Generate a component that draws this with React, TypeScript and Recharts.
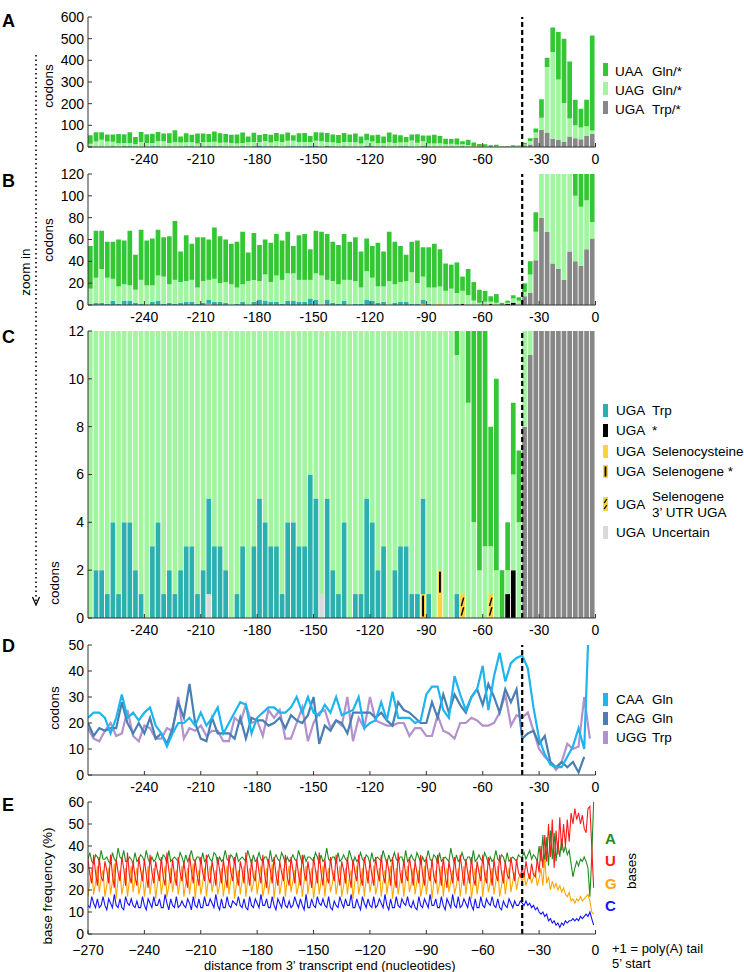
import React from 'react';
import { BarChart, Bar, LineChart, Line, XAxis, YAxis, ReferenceLine } from 'recharts';

const FONT = '"Liberation Sans", Arial, Helvetica, sans-serif';

// ---------- categories ----------
const codonStarts = Array.from({ length: 90 }, (_, i) => -270 + 3 * i); // codon bins -270..-3
const ntPositions = Array.from({ length: 270 }, (_, i) => -270 + i); // nucleotides -270..-1
const xTicksAD = [-240, -210, -180, -150, -120, -90, -60, -30, 0];
const xTicksE = [-270, -240, -210, -180, -150, -120, -90, -60, -30, 0];
const yTicksA = [0, 100, 200, 300, 400, 500, 600];
const yTicksB = [0, 20, 40, 60, 80, 100, 120];
const yTicksC = [0, 2, 4, 6, 8, 10, 12];
const yTicksD = [0, 10, 20, 30, 40, 50];
const yTicksE = [0, 10, 20, 30, 40, 50, 60];
const polyADistance = -39;

// ---------- panels A-C: codon counts ----------
const uaaCounts = [
  39, 43, 35, 33, 34, 43, 40, 50, 32, 46,
  41, 43, 42, 36, 44, 54, 28, 42, 33, 46,
  40, 37, 47, 43, 39, 37, 42, 48, 26, 43,
  33, 32, 36, 38, 36, 38, 25, 41, 42, 28,
  39, 40, 42, 36, 36, 42, 35, 40, 33, 30,
  29, 40, 32, 45, 39, 33, 24, 28, 39, 27,
  37, 40, 34, 25, 22, 28, 13, 24, 17, 12,
  10, 5, 8, 2, 2, 3, 3, 8, 12, 18,
  85, 43, 113, 219, 297, 264, 118, 87, 122, 439,
];
const uagCounts = [
  15, 23, 31, 24, 20, 16, 15, 14, 12, 22,
  18, 15, 23, 25, 17, 22, 19, 19, 20, 15,
  20, 18, 21, 17, 19, 19, 15, 16, 22, 20,
  17, 24, 18, 24, 22, 25, 25, 20, 20, 17,
  24, 26, 18, 20, 18, 19, 23, 21, 15, 26,
  21, 15, 14, 22, 17, 18, 19, 29, 19, 21,
  15, 16, 15, 13, 15, 10, 12, 9, 4, 2,
  3, 2, 2, 0, 1, 4, 4, 4, 17, 26,
  55, 302, 400, 279, 180, 82, 60, 54, 45, 15,
];
const ugaTrpCounts = [
  0, 2, 2, 1, 4, 1, 4, 4, 2, 1,
  0, 3, 4, 1, 2, 1, 2, 3, 3, 1,
  2, 4, 3, 3, 2, 0, 1, 3, 0, 3,
  5, 4, 3, 3, 1, 4, 4, 3, 3, 6,
  5, 0, 5, 2, 1, 4, 0, 1, 1, 5,
  4, 2, 3, 0, 2, 3, 3, 1, 1, 4,
  1, 0, 0, 0, 0, 1, 0, 0, 0, 0,
  0, 0, 0, 0, 0, 0, 0, 0, 0, 0,
  0, 0, 0, 0, 0, 0, 0, 0, 0, 0,
];
// UGA Trp/* downstream of the -39 line (codons starting at -39, -36, ... -3)
const ugaTailStart = -39;
const ugaTailCounts = [8, 11, 41, 80, 67, 38, 33, 23, 49, 40, 36, 51, 61];
// [codon start, count]
const ugaStopAt = [[-48, 1], [-45, 2]];
const ugaSecAt = [[-84, 1]];
const ugaSelStopAt = [[-93, 1], [-84, 1]];
const ugaSelUtrAt = [[-72, 1], [-57, 1]];
const ugaUncertainAt = [[-207, 1], [-147, 1]];

// ---------- panel D: codons per position ----------
const caaCounts = [
  22, 24, 24, 22, 16, 22, 31, 22, 24, 21,
  24, 26, 19, 16, 11, 16, 20, 20, 22, 19,
  24, 19, 22, 26, 16, 20, 24, 28, 27, 16,
  22, 24, 26, 26, 24, 24, 26, 30, 24, 30,
  24, 23, 27, 24, 30, 23, 24, 25, 30, 18,
  20, 21, 28, 21, 32, 22, 22, 22, 20, 21,
  31, 34, 34, 25, 22, 38, 31, 25, 30, 33,
  42, 25, 38, 47, 36, 43, 45, 46, 41, 26,
  14, 8, 4, 3, 3, 7, 11, 18, 10, 70,
];
const cagCounts = [
  20, 15, 18, 17, 18, 18, 28, 20, 16, 20,
  16, 22, 14, 16, 12, 18, 28, 22, 35, 20,
  14, 13, 22, 16, 16, 16, 14, 22, 14, 22,
  21, 21, 19, 20, 22, 18, 23, 21, 20, 23,
  30, 12, 19, 17, 21, 20, 16, 24, 24, 24,
  24, 22, 24, 21, 19, 28, 25, 24, 22, 20,
  20, 28, 22, 31, 24, 31, 27, 24, 30, 33,
  27, 35, 30, 24, 33, 28, 33, 14, 16, 17,
  12, 15, 5, 3, 5, 3, 5, 1, 7, null,
];
const uggCounts = [
  18, 14, 13, 17, 20, 15, 16, 25, 15, 13,
  19, 18, 14, 14, 18, 17, 30, 14, 18, 17,
  19, 15, 17, 17, 13, 13, 22, 20, 27, 20,
  21, 15, 25, 22, 25, 14, 14, 20, 26, 13,
  20, 24, 25, 18, 21, 19, 30, 13, 22, 18,
  30, 21, 20, 19, 19, 20, 20, 15, 18, 18,
  15, 15, 23, 17, 16, 14, 20, 20, 22, 21,
  19, 19, 20, 24, 31, 19, 23, 22, 24, 17,
  10, 7, 5, 2, 5, 12, 10, 11, 30, 14,
];

// ---------- panel E: base frequency (%) per nucleotide ----------
const freqACoding = [
  34, 37, 33, 32, 36, 35, 33, 38, 34, 34, 35, 33, 32, 37, 34, 33, 39, 35, 34, 38, 33, 33, 35, 34, 32, 37, 33, 34, 36, 35,
  33, 38, 34, 32, 35, 33, 34, 37, 34, 33, 36, 35, 32, 38, 33, 34, 35, 34, 33, 37, 35, 32, 36, 33, 35, 38, 34, 33, 35, 35,
  32, 37, 33, 34, 36, 34, 33, 37, 36, 32, 35, 33, 34, 38, 34, 33, 36, 35, 32, 37, 33, 34, 35, 34, 33, 38, 35, 32, 36, 33,
  34, 37, 34, 33, 35, 35, 32, 38, 33, 34, 36, 34, 33, 37, 35, 32, 35, 33, 34, 36, 34, 33, 38, 35, 32, 36, 33, 35, 35, 34,
  33, 37, 35, 32, 36, 33, 34, 39, 34, 33, 35, 35, 32, 37, 33, 34, 36, 34, 33, 38, 35, 32, 35, 33, 34, 37, 34, 33, 36, 35,
  32, 37, 33, 34, 35, 34, 33, 38, 35, 32, 36, 33, 34, 37, 34, 33, 35, 35, 32, 38, 33, 34, 36, 34, 33, 37, 35, 32, 35, 33,
  34, 38, 34, 33, 36, 35, 32, 37, 33, 34, 35, 34, 33, 39, 35, 32, 36, 33, 34, 37, 34, 33, 35, 35, 32, 38, 33, 34, 36, 34,
  33, 37, 35, 32, 35, 33, 34, 38, 34, 33, 36, 35, 32, 37, 33, 34, 35, 34, 33, 36, 35,
];
const freqATail = [35, 37, 34, 36, 38, 34, 36, 35, 33, 40, 33, 45, 32, 44, 31, 47, 34, 46, 33, 42, 35, 43, 37, 40, 36, 38, 32, 26, 30, 33, 31, 34, 33, 35, 33, 30, 17, 35, 60];
const freqUCoding = [
  34, 27, 23, 36, 28, 22, 35, 26, 24, 33, 29, 23, 36, 27, 21, 34, 28, 24, 35, 30, 22, 37, 27, 23, 33, 26, 22, 35, 29, 24,
  34, 27, 21, 36, 28, 23, 33, 28, 24, 35, 26, 22, 37, 29, 23, 34, 27, 22, 35, 28, 24, 33, 26, 21, 36, 29, 23, 34, 27, 22,
  35, 28, 24, 36, 26, 23, 33, 28, 22, 35, 29, 23, 34, 27, 21, 36, 28, 24, 35, 27, 22, 33, 29, 23, 37, 28, 22, 34, 26, 24,
  35, 28, 23, 36, 27, 21, 34, 29, 23, 35, 27, 22, 33, 28, 24, 36, 26, 22, 35, 29, 23, 34, 27, 22, 36, 28, 24, 33, 27, 21,
  35, 29, 23, 37, 28, 22, 34, 26, 23, 35, 28, 24, 36, 27, 22, 33, 29, 23, 35, 27, 21, 34, 28, 24, 36, 26, 22, 35, 29, 23,
  33, 27, 22, 35, 28, 24, 36, 27, 23, 34, 29, 22, 35, 26, 21, 37, 28, 23, 34, 27, 24, 35, 29, 22, 33, 28, 23, 36, 27, 22,
  35, 28, 24, 34, 26, 23, 36, 29, 22, 35, 27, 21, 33, 28, 23, 35, 27, 24, 36, 29, 22, 34, 28, 23, 35, 26, 22, 33, 28, 24,
  36, 27, 23, 35, 29, 22, 34, 27, 24, 36, 28, 23, 33, 27, 25, 35, 29, 24, 34, 28, 26,
];
const freqUTail = [30, 26, 33, 28, 25, 32, 27, 26, 34, 28, 40, 30, 45, 33, 50, 35, 52, 30, 47, 36, 53, 38, 50, 40, 52, 42, 55, 50, 57, 52, 55, 50, 54, 48, 46, 57, 58, 40, 21];
const freqGCoding = [
  17, 24, 30, 18, 23, 31, 19, 25, 29, 17, 22, 30, 18, 24, 32, 16, 25, 29, 18, 23, 30, 17, 24, 31, 19, 25, 30, 18, 22, 29,
  17, 24, 31, 18, 25, 30, 16, 23, 29, 18, 24, 31, 17, 22, 30, 19, 25, 29, 18, 24, 31, 17, 23, 30, 18, 25, 32, 16, 24, 29,
  18, 23, 30, 17, 25, 31, 19, 24, 29, 18, 22, 30, 17, 24, 31, 18, 25, 30, 16, 23, 29, 18, 24, 31, 17, 25, 30, 19, 23, 29,
  18, 24, 31, 17, 22, 30, 18, 25, 32, 16, 24, 29, 18, 23, 30, 17, 25, 31, 19, 24, 29, 18, 22, 30, 17, 24, 31, 18, 25, 30,
  16, 23, 29, 18, 24, 31, 17, 25, 30, 19, 23, 29, 18, 24, 31, 17, 22, 30, 18, 25, 29, 16, 24, 31, 18, 23, 30, 17, 25, 29,
  19, 24, 31, 18, 22, 30, 17, 24, 29, 18, 25, 31, 16, 23, 30, 18, 24, 29, 17, 25, 31, 19, 23, 30, 18, 24, 29, 17, 22, 31,
  18, 25, 30, 16, 24, 29, 18, 23, 31, 17, 25, 30, 19, 24, 29, 18, 22, 30, 17, 24, 31, 18, 25, 29, 16, 23, 30, 18, 24, 31,
  17, 25, 29, 19, 23, 30, 18, 24, 31, 17, 22, 29, 18, 25, 30, 19, 24, 28, 20, 25, 27,
];
const freqGTail = [24, 27, 22, 25, 27, 23, 26, 28, 22, 25, 30, 22, 34, 23, 26, 20, 24, 21, 23, 20, 22, 19, 21, 18, 17, 19, 15, 16, 14, 16, 15, 17, 15, 16, 17, 18, 15, 10, 9];
const freqCCoding = [
  13, 12, 17, 14, 12, 16, 12, 13, 17, 13, 11, 16, 14, 12, 18, 13, 12, 16, 12, 11, 17, 14, 13, 16, 13, 12, 15, 12, 12, 17,
  13, 11, 16, 14, 12, 17, 13, 13, 16, 12, 12, 18, 14, 11, 16, 13, 12, 17, 12, 13, 15, 13, 12, 16, 14, 11, 17, 13, 12, 16,
  12, 12, 17, 13, 13, 16, 14, 12, 18, 13, 11, 16, 12, 12, 17, 13, 12, 15, 14, 13, 17, 13, 12, 16, 12, 11, 17, 13, 12, 16,
  14, 12, 18, 13, 13, 16, 12, 12, 17, 13, 11, 16, 14, 12, 17, 13, 12, 15, 12, 13, 17, 14, 12, 16, 13, 11, 18, 12, 12, 16,
  13, 12, 17, 14, 13, 16, 13, 12, 17, 12, 11, 15, 13, 12, 17, 14, 12, 16, 13, 13, 18, 12, 12, 16, 13, 11, 17, 14, 12, 16,
  13, 12, 17, 12, 13, 16, 14, 12, 18, 13, 11, 16, 12, 12, 17, 13, 12, 16, 14, 13, 17, 13, 12, 15, 12, 11, 17, 13, 12, 16,
  14, 12, 18, 13, 13, 16, 12, 12, 17, 13, 11, 16, 14, 12, 18, 13, 12, 17, 12, 13, 16, 14, 12, 17, 13, 11, 16, 12, 12, 17,
  13, 12, 16, 14, 13, 17, 13, 12, 16, 12, 11, 15, 13, 12, 16, 14, 12, 15, 13, 13, 15,
];
const freqCTail = [14, 13, 15, 13, 14, 12, 13, 11, 12, 10, 9, 10, 8, 9, 6, 7, 5, 6, 4, 5, 3, 5, 4, 6, 5, 6, 6, 7, 6, 7, 6, 8, 7, 8, 9, 8, 10, 7, 4];

// ---------- colours ----------
const C_UAA = '#33c833';
const C_UAG = '#a2f5a0';
const C_UGA = '#878787';
const C_TRP = '#2ab0ae';
const C_SEC = '#fdd23a';
const C_STOP = '#000000';
const C_UNC = '#d9d9d9';
const C_CAA = '#1cb5f0';
const C_CAG = '#4a7fb3';
const C_UGG = '#b391cc';
const C_A = '#228b22';
const C_U = '#ff1a1a';
const C_G = '#ffa500';
const C_C = '#1414ff';
const AXIS = '#333';

// ---------- table building ----------
const lookup = (pairs: number[][], s: number) => {
  const p = pairs.find((q) => q[0] === s);
  return p ? p[1] : 0;
};
const barRows = codonStarts.map((s, i) => ({
  x: s + 1.5,
  sec: lookup(ugaSecAt, s),
  selStop: lookup(ugaSelStopAt, s),
  unc: lookup(ugaUncertainAt, s),
  selUtr: lookup(ugaSelUtrAt, s),
  stop: lookup(ugaStopAt, s),
  trp: ugaTrpCounts[i],
  tail: s >= ugaTailStart ? ugaTailCounts[(s - ugaTailStart) / 3] : 0,
  uag: uagCounts[i],
  uaa: uaaCounts[i],
}));
const dRows = codonStarts.map((s, i) => ({ x: s, caa: caaCounts[i], cag: cagCounts[i], ugg: uggCounts[i] }));
const freqA = [...freqACoding, ...freqATail];
const freqU = [...freqUCoding, ...freqUTail];
const freqG = [...freqGCoding, ...freqGTail];
const freqC = [...freqCCoding, ...freqCTail];
const eRows = ntPositions.map((n, i) => ({ x: n, A: freqA[i], U: freqU[i], G: freqG[i], C: freqC[i] }));

// ---------- shapes ----------
const SelStopShape = (p: any) => {
  const { x, y, width, height } = p;
  if (!height || height <= 0) return <g />;
  return (
    <g>
      <rect x={x} y={y} width={width} height={height} fill={C_SEC} />
      <rect x={x + width * 0.3} y={y + 1.5} width={width * 0.4} height={Math.max(height - 3, 0)} fill="#000" />
    </g>
  );
};
const SelUtrShape = (p: any) => {
  const { x, y, width, height } = p;
  if (!height || height <= 0) return <g />;
  return (
    <g>
      <rect x={x} y={y} width={width} height={height} fill={C_SEC} />
      <line x1={x + width * 0.25} y1={y + height * 0.5} x2={x + width * 0.75} y2={y + height * 0.15} stroke="#000" strokeWidth={1.4} />
      <line x1={x + width * 0.25} y1={y + height * 0.9} x2={x + width * 0.75} y2={y + height * 0.55} stroke="#000" strokeWidth={1.4} />
    </g>
  );
};

const TICK = { fill: '#000', fontSize: 14, fontFamily: FONT };
const blank = () => '';
const fmtE = (v: number) => (v < 0 ? '\u2212' + Math.abs(v) : String(v));

function frameAxes(yDomain: number[], yTicks: number[], xTicks: number[], fmt?: (v: number) => string, xMargin = 11) {
  const common = { axisLine: { stroke: AXIS, strokeWidth: 1 }, tickLine: { stroke: AXIS }, tickSize: -4, interval: 0 as const };
  return [
    <XAxis key="xb" dataKey="x" type="number" domain={[-270, 0]} allowDataOverflow ticks={xTicks} tickFormatter={fmt} tick={TICK} tickMargin={xMargin} height={25} {...common} />,
    <XAxis key="xt" xAxisId="top" orientation="top" type="number" domain={[-270, 0]} allowDataOverflow ticks={xTicks} tickFormatter={blank} height={0} {...common} />,
    <YAxis key="yl" type="number" domain={yDomain} allowDataOverflow ticks={yTicks} tick={TICK} tickMargin={8} width={88} {...common} />,
    <YAxis key="yr" yAxisId="r" orientation="right" type="number" domain={yDomain} allowDataOverflow ticks={yTicks} tickFormatter={blank} width={0} {...common} />,
  ];
}

function barSeries() {
  const c = { stackId: 's', isAnimationActive: false, barSize: 4.7 };
  return [
    <Bar key="sec" dataKey="sec" fill={C_SEC} {...c} />,
    <Bar key="selStop" dataKey="selStop" fill={C_SEC} shape={SelStopShape} {...c} />,
    <Bar key="unc" dataKey="unc" fill={C_UNC} {...c} />,
    <Bar key="selUtr" dataKey="selUtr" fill={C_SEC} shape={SelUtrShape} {...c} />,
    <Bar key="stop" dataKey="stop" fill={C_STOP} {...c} />,
    <Bar key="trp" dataKey="trp" fill={C_TRP} {...c} />,
    <Bar key="tail" dataKey="tail" fill={C_UGA} {...c} />,
    <Bar key="uag" dataKey="uag" fill={C_UAG} {...c} />,
    <Bar key="uaa" dataKey="uaa" fill={C_UAA} {...c} />,
  ];
}

const dashLine = <ReferenceLine x={polyADistance} stroke="#000" strokeWidth={2.2} strokeDasharray="5 3" />;
const MR = 148.5;

function BarPanel({ top, height, marginTop, yDomain, yTicks }: any) {
  return (
    <div style={{ position: 'absolute', left: 0, top }}>
      <BarChart width={744} height={height} data={barRows} margin={{ top: marginTop, right: MR, bottom: 0, left: 0 }} barCategoryGap="8%">
        {frameAxes(yDomain, yTicks, xTicksAD)}
        {barSeries()}
        {dashLine}
      </BarChart>
    </div>
  );
}

const Swatch = ({ y, fill }: any) => <rect x={603} y={y} width={5} height={13} fill={fill} />;

export default function App() {
  return (
    <div style={{ position: 'absolute', left: 0, top: 0, width: 744, height: 972, background: '#fff', overflow: 'hidden', fontFamily: FONT }}>
      <BarPanel top={0} height={172} marginTop={17} yDomain={[0, 600]} yTicks={yTicksA} />
      <BarPanel top={160} height={170} marginTop={14} yDomain={[0, 120]} yTicks={yTicksB} />
      <BarPanel top={320} height={323} marginTop={11} yDomain={[0, 12]} yTicks={yTicksC} />

      <div style={{ position: 'absolute', left: 0, top: 634 }}>
        <LineChart width={744} height={166} data={dRows} margin={{ top: 11, right: MR, bottom: 0, left: 0 }}>
          {frameAxes([0, 50], yTicksD, xTicksAD)}
          <Line dataKey="ugg" stroke={C_UGG} strokeWidth={2.2} dot={false} isAnimationActive={false} />
          <Line dataKey="cag" stroke={C_CAG} strokeWidth={2.2} dot={false} isAnimationActive={false} />
          <Line dataKey="caa" stroke={C_CAA} strokeWidth={2.2} dot={false} isAnimationActive={false} />
          {dashLine}
        </LineChart>
      </div>

      <div style={{ position: 'absolute', left: 0, top: 792 }}>
        <LineChart width={744} height={167} data={eRows} margin={{ top: 10, right: MR, bottom: 0, left: 0 }}>
          {frameAxes([0, 60], yTicksE, xTicksE, fmtE, 15)}
          <Line dataKey="A" stroke={C_A} strokeWidth={1.1} dot={false} isAnimationActive={false} />
          <Line dataKey="G" stroke={C_G} strokeWidth={1.1} dot={false} isAnimationActive={false} />
          <Line dataKey="U" stroke={C_U} strokeWidth={1.1} dot={false} isAnimationActive={false} />
          <Line dataKey="C" stroke={C_C} strokeWidth={1.1} dot={false} isAnimationActive={false} />
          {dashLine}
        </LineChart>
      </div>

      <svg width={744} height={972} style={{ position: 'absolute', left: 0, top: 0, pointerEvents: 'none' }} fontFamily={FONT}>
        {/* panel letters */}
        <g fontSize={18} fontWeight="bold" fill="#000">
          <text x={2} y={27}>A</text>
          <text x={2} y={187}>B</text>
          <text x={2} y={343}>C</text>
          <text x={2} y={652}>D</text>
          <text x={2} y={811}>E</text>
        </g>
        {/* axis titles */}
        <g fontSize={13.5} fill="#000" textAnchor="middle">
          <text transform="translate(53,86) rotate(-90)">codons</text>
          <text transform="translate(53,240) rotate(-90)">codons</text>
          <text transform="translate(59,583) rotate(-90)">codons</text>
          <text transform="translate(59,708) rotate(-90)">codons</text>
          <text transform="translate(52,886) rotate(-90)">base frequency (%)</text>
          <text transform="translate(30,272) rotate(-90)">zoom in</text>
          <text transform="translate(636,871) rotate(-90)">bases</text>
        </g>
        {/* zoom arrow */}
        <line x1={36} y1={55} x2={36} y2={603} stroke="#000" strokeWidth={1.6} strokeDasharray="1.5 3" />
        <path d="M32.5,597 L36,605 L39.5,597" fill="none" stroke="#000" strokeWidth={1.3} />

        {/* legend A */}
        <g fontSize={13.5} fill="#000">
          <Swatch y={63} fill={C_UAA} />
          <text x={615} y={76}>UAA</text>
          <text x={652} y={76}>Gln/*</text>
          <Swatch y={82} fill={C_UAG} />
          <text x={615} y={95}>UAG</text>
          <text x={652} y={95}>Gln/*</text>
          <Swatch y={101} fill={C_UGA} />
          <text x={615} y={114}>UGA</text>
          <text x={652} y={114}>Trp/*</text>
        </g>

        {/* legend C */}
        <g fontSize={13.5} fill="#000">
          <Swatch y={404} fill={C_TRP} />
          <text x={616} y={415}>UGA</text>
          <text x={652} y={415}>Trp</text>
          <Swatch y={424} fill={C_STOP} />
          <text x={616} y={435}>UGA</text>
          <text x={652} y={435}>*</text>
          <Swatch y={445} fill={C_SEC} />
          <text x={616} y={456}>UGA</text>
          <text x={652} y={456}>Selenocysteine</text>
          <rect x={603} y={465} width={5} height={13} fill={C_SEC} />
          <rect x={604.6} y={466.5} width={1.8} height={10} fill="#000" />
          <text x={616} y={476}>UGA</text>
          <text x={652} y={476}>Selenogene *</text>
          <rect x={603} y={497} width={5} height={14} fill={C_SEC} />
          <line x1={604.2} y1={503} x2={606.8} y2={499} stroke="#000" strokeWidth={1.3} />
          <line x1={604.2} y1={509} x2={606.8} y2={505} stroke="#000" strokeWidth={1.3} />
          <text x={616} y={509}>UGA</text>
          <text x={652} y={501}>Selenogene</text>
          <text x={652} y={517}>3’ UTR UGA</text>
          <Swatch y={526} fill={C_UNC} />
          <text x={616} y={537}>UGA</text>
          <text x={652} y={537}>Uncertain</text>
        </g>

        {/* legend D */}
        <g fontSize={13.5} fill="#000">
          <Swatch y={693} fill={C_CAA} />
          <text x={616} y={704}>CAA</text>
          <text x={652} y={704}>Gln</text>
          <Swatch y={712} fill={C_CAG} />
          <text x={616} y={723}>CAG</text>
          <text x={652} y={723}>Gln</text>
          <Swatch y={731} fill={C_UGG} />
          <text x={616} y={742}>UGG</text>
          <text x={652} y={742}>Trp</text>
        </g>

        {/* legend E */}
        <g fontSize={15} fontWeight="bold">
          <text x={605} y={844} fill={C_A}>A</text>
          <text x={605} y={866} fill={C_U}>U</text>
          <text x={605} y={889} fill={C_G}>G</text>
          <text x={605} y={911} fill={C_C}>C</text>
        </g>

        {/* bottom notes */}
        <g fontSize={13} fill="#000">
          <text x={204} y={970}>distance from 3’ transcript end (nucleotides)</text>
          <text x={612} y={953}>+1 = poly(A) tail</text>
          <text x={612} y={968}>5’ start</text>
        </g>
      </svg>
    </div>
  );
}
